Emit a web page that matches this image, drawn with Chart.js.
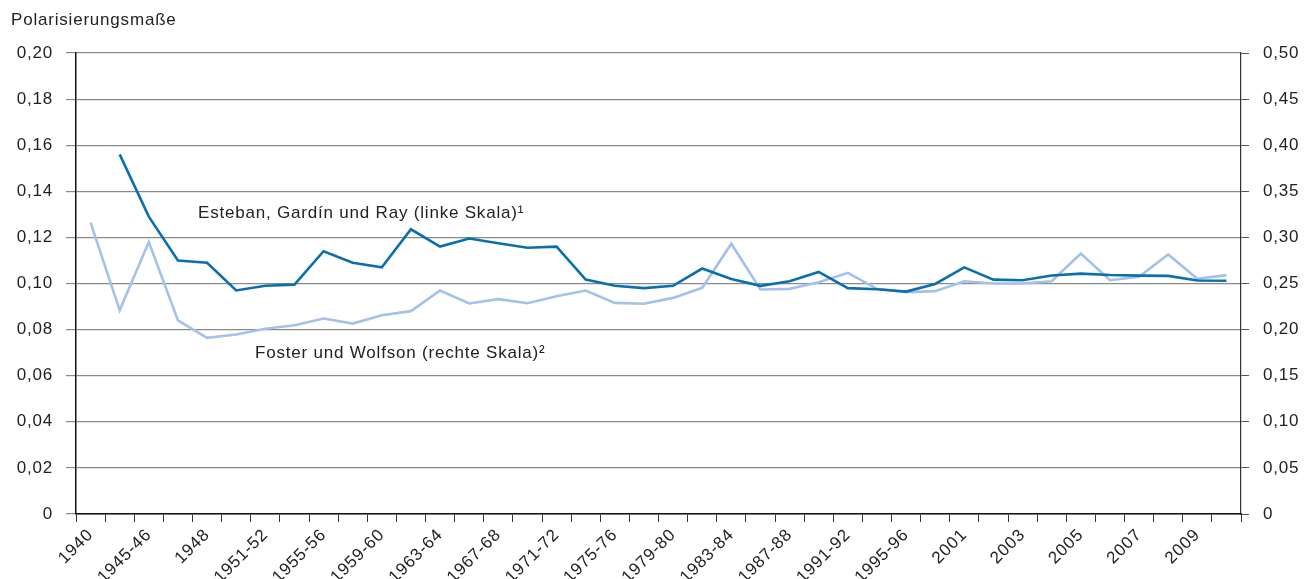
<!DOCTYPE html>
<html>
<head>
<meta charset="utf-8">
<script src="https://cdn.jsdelivr.net/npm/chart.js@4.4.1/dist/chart.umd.min.js"></script>
<style>
  html, body { margin: 0; padding: 0; background: #fff; }
</style>
</head>
<body>
<canvas id="chart" width="1304" height="579"></canvas>
<script>
// Categories (every second one is labelled on the axis)
const periods = [
  '1940', '1943', '1945-46', '1947', '1948', '1949-50', '1951-52', '1953-54',
  '1955-56', '1957-58', '1959-60', '1961-62', '1963-64', '1965-66', '1967-68', '1969-70',
  '1971-72', '1973-74', '1975-76', '1977-78', '1979-80', '1981-82', '1983-84', '1985-86',
  '1987-88', '1989-90', '1991-92', '1993-94', '1995-96', '1999-2000', '2001', '2002',
  '2003', '2004', '2005', '2006', '2007', '2008', '2009', '2010'
];

// Esteban, Gardín und Ray (left scale)
const esteban = [
  null, 0.156, 0.129, 0.110, 0.109, 0.097, 0.099, 0.0995,
  0.114, 0.109, 0.107, 0.1235, 0.116, 0.1195, 0.1175, 0.1155,
  0.116, 0.1017, 0.099, 0.098, 0.099, 0.1065, 0.102, 0.099,
  0.101, 0.105, 0.098, 0.0975, 0.0965, 0.0998, 0.107, 0.1017,
  0.1014, 0.1035, 0.1043, 0.1037, 0.1034, 0.1033, 0.1013, 0.1012
];

// Foster und Wolfson (right scale)
const foster = [
  0.316, 0.221, 0.295, 0.210, 0.191, 0.1946, 0.201, 0.2047,
  0.212, 0.2065, 0.2156, 0.220, 0.2424, 0.2283, 0.233, 0.2286,
  0.2362, 0.2424, 0.229, 0.228, 0.2344, 0.2453, 0.2931, 0.2435,
  0.2442, 0.2514, 0.2616, 0.2442, 0.2406, 0.2417, 0.2525, 0.250,
  0.250, 0.2525, 0.2826, 0.2536, 0.2572, 0.2815, 0.2551, 0.2591
];

const yTitle = 'Polarisierungsmaße';
const estebanLabel = 'Esteban, Gardín und Ray (linke Skala)¹';
const fosterLabel = 'Foster und Wolfson (rechte Skala)²';

const FONT = '"Liberation Sans", Arial, Helvetica, sans-serif';
const textColor = '#222';
const darkBlue = '#0b6fae';
const lightBlue = '#a4c1ea';

const fmt = v => (Math.abs(v) < 1e-9 ? '0' : v.toFixed(2).replace('.', ','));

// the original lettering runs a bit wide, so space the glyphs out a little
const spacingPlugin = {
  id: 'spacing',
  beforeDraw(chart) { chart.ctx.letterSpacing = '0.8px'; }
};

// Free texts: axis title and series annotations
const textPlugin = {
  id: 'texts',
  afterDraw(chart) {
    const ctx = chart.ctx;
    ctx.save();
    ctx.font = '17px ' + FONT;
    ctx.fillStyle = textColor;
    ctx.textBaseline = 'middle';
    ctx.textAlign = 'left';
    ctx.fillText(yTitle, 11, 20);
    ctx.fillText(estebanLabel, 198, 213);
    ctx.fillText(fosterLabel, 255, 353);
    ctx.restore();
  }
};

Chart.defaults.font.family = FONT;
Chart.defaults.font.size = 17;
Chart.defaults.color = textColor;

new Chart(document.getElementById('chart'), {
  type: 'line',
  data: {
    labels: periods,
    datasets: [
      {
        label: estebanLabel,
        data: esteban,
        yAxisID: 'y',
        borderColor: darkBlue,
        borderWidth: 2.6,
        pointRadius: 0,
        tension: 0,
        fill: false
      },
      {
        label: fosterLabel,
        data: foster,
        yAxisID: 'y2',
        borderColor: lightBlue,
        borderWidth: 2.6,
        pointRadius: 0,
        tension: 0,
        fill: false
      }
    ]
  },
  options: {
    responsive: false,
    animation: false,
    layout: { padding: { top: 53, left: 0, right: 0, bottom: 0 } },
    plugins: {
      legend: { display: false },
      tooltip: { enabled: false }
    },
    scales: {
      x: {
        offset: true,
        grid: { offset: true, drawOnChartArea: false, drawTicks: true, tickLength: 8, color: '#333' },
        border: { color: '#111', width: 1.5 },
        ticks: {
          autoSkip: false,
          maxRotation: 45,
          minRotation: 45,
          padding: 3,
          callback: function (val, idx) { return idx % 2 === 0 ? this.getLabelForValue(val) : ''; }
        },
        afterFit: s => { s.height = 65; }
      },
      y: {
        position: 'left',
        min: 0,
        max: 0.2,
        ticks: { stepSize: 0.02, padding: 13, callback: v => fmt(v) },
        grid: { color: '#8a8a8a', lineWidth: 1.2, tickLength: 10 },
        border: { color: '#111', width: 1.5 },
        afterFit: s => { s.width = 76; }
      },
      y2: {
        position: 'right',
        min: 0,
        max: 0.5,
        ticks: { stepSize: 0.05, padding: 14, callback: v => fmt(v) },
        grid: { drawOnChartArea: false, color: '#555', tickLength: 8 },
        border: { color: '#333', width: 1.2 },
        afterFit: s => { s.width = 63; }
      }
    }
  },
  plugins: [spacingPlugin, textPlugin]
});
</script>
</body>
</html>
